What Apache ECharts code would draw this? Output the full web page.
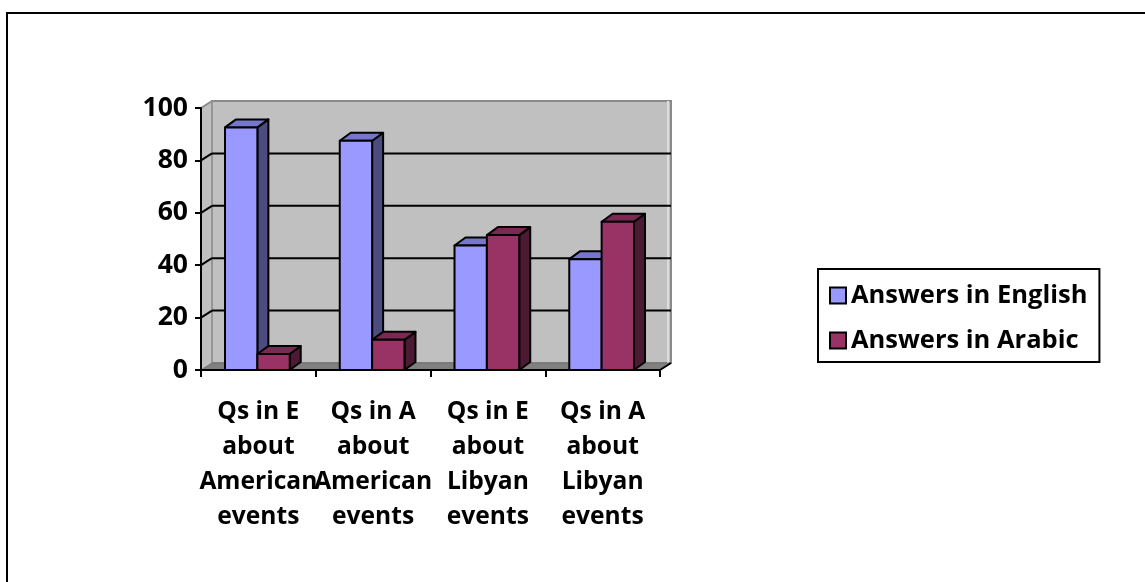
<!DOCTYPE html>
<html><head><meta charset="utf-8">
<script src="https://cdn.jsdelivr.net/npm/echarts@6/dist/echarts.min.js"></script>
<style>html,body{margin:0;padding:0;background:#fff}#c{width:1145px;height:582px}</style>
</head><body><div id="c"></div>
<script>
var categories = ["Qs in E\nabout\nAmerican\nevents", "Qs in A\nabout\nAmerican\nevents", "Qs in E\nabout\nLibyan\nevents", "Qs in A\nabout\nLibyan\nevents"];
var seriesNames = ["Answers in English", "Answers in Arabic"];
var english = [92.6, 87.5, 47.5, 42.3];
var arabic = [6.1, 11.5, 51.5, 56.6];
var yTicks = [0, 20, 40, 60, 80, 100];

var FONT = '"Open Sans", "Noto Sans", sans-serif';
var WDX = 11, WDY = -7;   // wall depth
var BDX = 11, BDY = -8;   // bar depth

var palettes = [
  {front: '#9999ff', top: '#7676cc', side: '#4c4c80'},
  {front: '#993366', top: '#7a2952', side: '#4c1a33'}
];

function barRender(idx) {
  var pal = palettes[idx];
  return function (params, api) {
    var cat = api.value(0), val = api.value(1);
    var band = api.size([1, 0])[0];
    var top = api.coord([cat, val]);
    var base = api.coord([cat, 0]);
    var bw = band * 0.282;
    var x0 = idx === 0 ? top[0] - bw - 1 : top[0] - 1;
    var yt = top[1], yb = base[1];
    var st = {stroke: '#000', lineWidth: 2, lineJoin: 'round'};
    return {
      type: 'group',
      children: [
        {type: 'polygon', shape: {points: [[x0 + bw, yt], [x0 + bw + BDX, yt + BDY], [x0 + bw + BDX, yb + BDY], [x0 + bw, yb]]},
         style: Object.assign({fill: pal.side}, st)},
        {type: 'polygon', shape: {points: [[x0, yt], [x0 + bw, yt], [x0 + bw + BDX, yt + BDY], [x0 + BDX, yt + BDY]]},
         style: Object.assign({fill: pal.top}, st)},
        {type: 'rect', shape: {x: x0, y: yt, width: bw, height: yb - yt},
         style: Object.assign({fill: pal.front}, st)}
      ]
    };
  };
}

function wallRender(params, api) {
  var cs = params.coordSys;
  var xl = cs.x, xr = cs.x + cs.width;
  var yTop = api.coord([0, yTicks[yTicks.length - 1]])[1];
  var yBot = api.coord([0, yTicks[0]])[1];
  var ch = [];
  ch.push({type: 'polygon', shape: {points: [[xl, yTop], [xl + WDX, yTop + WDY], [xl + WDX, yBot + WDY], [xl, yBot]]},
           style: {fill: '#c0c0c0'}});
  ch.push({type: 'rect', shape: {x: xl + WDX, y: yTop + WDY, width: xr - xl, height: yBot - yTop},
           style: {fill: '#c0c0c0', stroke: '#8a8a8a', lineWidth: 2}});
  ch.push({type: 'line', shape: {x1: xl + WDX, y1: yTop + WDY, x2: xl + WDX, y2: yBot + WDY},
           style: {stroke: '#a0a0a0', lineWidth: 1}});
  ch.push({type: 'line', shape: {x1: xr + WDX - 3, y1: yTop + WDY, x2: xr + WDX - 3, y2: yBot + WDY},
           style: {stroke: '#dcdcdc', lineWidth: 2}});
  ch.push({type: 'polygon', shape: {points: [[xl, yBot], [xr, yBot], [xr + WDX, yBot + WDY], [xl + WDX, yBot + WDY]]},
           style: {fill: '#808080', stroke: '#707070', lineWidth: 1}});
  yTicks.forEach(function (t) {
    var y = api.coord([0, t])[1];
    if (t === yTicks[0]) return;
    var col = (t === yTicks[yTicks.length - 1]) ? '#8a8a8a' : '#000';
    ch.push({type: 'line', shape: {x1: xl, y1: y, x2: xl + WDX, y2: y + WDY}, style: {stroke: col, lineWidth: 2}});
    if (t !== yTicks[yTicks.length - 1]) {
      ch.push({type: 'line', shape: {x1: xl + WDX, y1: y + WDY, x2: xr + WDX, y2: y + WDY}, style: {stroke: '#000', lineWidth: 2}});
    }
  });
  ch.push({type: 'line', shape: {x1: xr, y1: yBot, x2: xr + WDX, y2: yBot + WDY}, style: {stroke: '#000', lineWidth: 2}});
  return {type: 'group', children: ch};
}

var chart = echarts.init(document.getElementById('c'), null, {renderer: 'canvas'});
chart.setOption({
  backgroundColor: '#fff',
  animation: false,
  grid: {left: 201, right: 485, top: 108, bottom: 212, containLabel: false},
  legend: {
    orient: 'vertical', left: 818, top: 269,
    padding: [12, 12, 7, 11],
    borderColor: '#000', borderWidth: 2,
    itemWidth: 16, itemHeight: 16, itemGap: 16, icon: 'rect',
    itemStyle: {borderColor: '#000', borderWidth: 2},
    textStyle: {fontFamily: FONT, fontWeight: 'bold', fontSize: 25.5, color: '#000', lineHeight: 29},
    data: seriesNames
  },
  xAxis: {
    type: 'category', data: categories, z: 5,
    axisLine: {lineStyle: {color: '#000', width: 2}},
    axisTick: {show: true, length: 7, lineStyle: {color: '#000', width: 2}, alignWithLabel: false},
    axisLabel: {interval: 0, margin: 24, fontFamily: FONT, fontWeight: 'bold', fontSize: 24.6, color: '#000', lineHeight: 35},
    splitLine: {show: false}
  },
  yAxis: {
    type: 'value', min: 0, max: 100, interval: 20, z: 5,
    axisLine: {show: true, lineStyle: {color: '#000', width: 2}},
    axisTick: {show: true, length: 6, lineStyle: {color: '#000', width: 2}},
    axisLabel: {margin: 13, fontFamily: FONT, fontWeight: 'bold', fontSize: 26.5, color: '#000'},
    splitLine: {show: false}
  },
  graphic: [{type: 'rect', shape: {x: 7, y: 13, width: 1300, height: 800}, style: {fill: 'none', stroke: '#000', lineWidth: 2}, z: 100}],
  series: [
    {type: 'custom', name: '_walls', renderItem: wallRender, data: [[0, 0]], z: 1, silent: true},
    {type: 'custom', name: seriesNames[0], renderItem: barRender(0), itemStyle: {color: palettes[0].front},
     data: english.map(function (v, i) { return [i, v]; }), encode: {x: 0, y: 1}, z: 2},
    {type: 'custom', name: seriesNames[1], renderItem: barRender(1), itemStyle: {color: palettes[1].front},
     data: arabic.map(function (v, i) { return [i, v]; }), encode: {x: 0, y: 1}, z: 3}
  ]
});
</script>
</body></html>
